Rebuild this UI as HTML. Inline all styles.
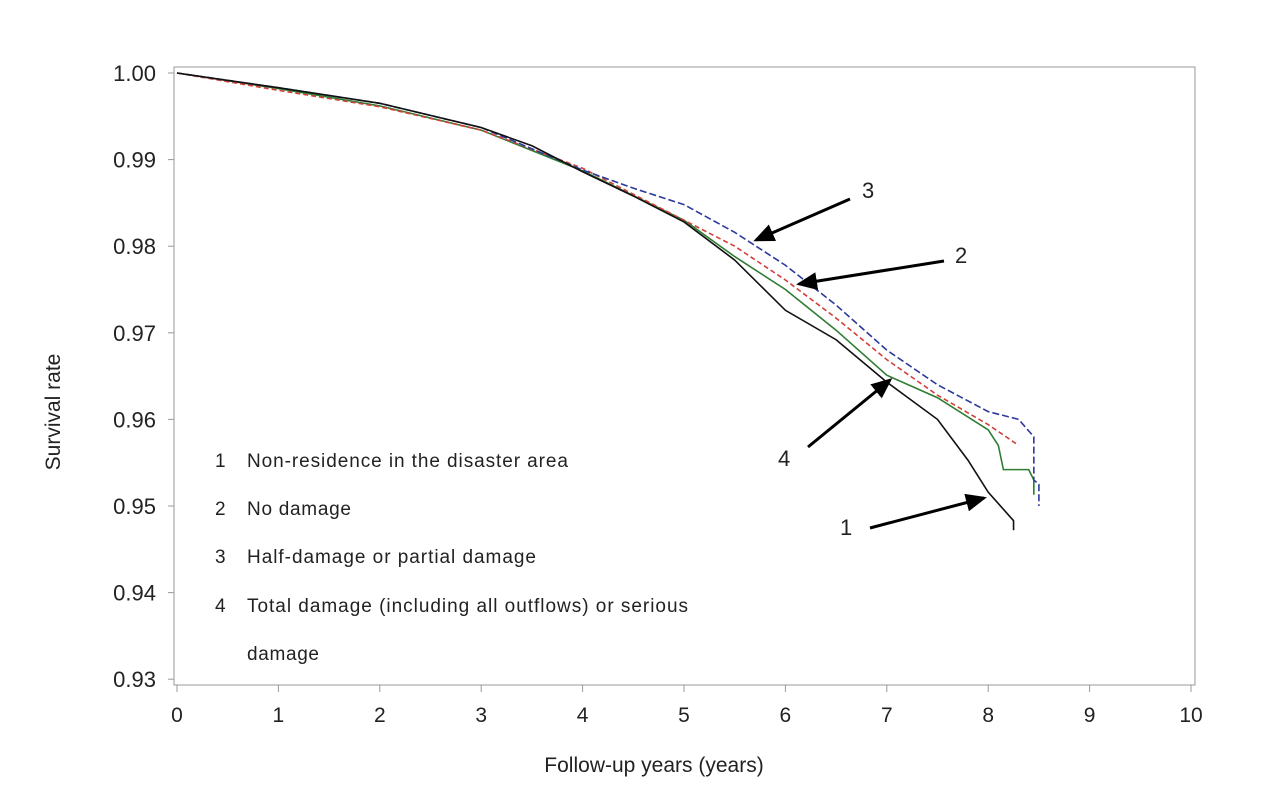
<!DOCTYPE html>
<html><head><meta charset="utf-8"><style>
body{margin:0;background:#fff;}
svg{display:block;font-family:"Liberation Sans",sans-serif;}
</style></head><body>
<svg id="chart" width="1280" height="797">
<defs><marker id="ah" markerWidth="7" markerHeight="6" refX="6" refY="3" orient="auto"><path d="M0,0 L7,3 L0,6 Z" fill="#000"/></marker></defs>
<rect x="174" y="67" width="1021" height="618" fill="none" stroke="#999" stroke-width="1"/>
<g id="axes"></g>
<g id="series"></g>
<g id="legend" font-size="19" fill="#222">
<text x="215" y="467">1</text><text x="247" y="467" textLength="321" lengthAdjust="spacing">Non-residence in the disaster area</text>
<text x="215" y="515">2</text><text x="247" y="515" textLength="104" lengthAdjust="spacing">No damage</text>
<text x="215" y="563">3</text><text x="247" y="563" textLength="289" lengthAdjust="spacing">Half-damage or partial damage</text>
<text x="215" y="612">4</text><text x="247" y="612" textLength="441" lengthAdjust="spacing">Total damage (including all outflows) or serious</text>
<text x="247" y="660" textLength="72" lengthAdjust="spacing">damage</text>
</g>
<g font-size="22" fill="#222" stroke="#000" stroke-width="3">
<text x="862" y="198" stroke="none">3</text>
<line x1="850" y1="199" x2="756" y2="240" marker-end="url(#ah)"/>
<text x="955" y="263" stroke="none">2</text>
<line x1="944" y1="261" x2="799" y2="284" marker-end="url(#ah)"/>
<text x="778" y="466" stroke="none">4</text>
<line x1="808" y1="447" x2="890" y2="380" marker-end="url(#ah)"/>
<text x="840" y="535" stroke="none">1</text>
<line x1="870" y1="528" x2="984" y2="498" marker-end="url(#ah)"/>
</g>
<text x="654" y="772" font-size="21" fill="#222" text-anchor="middle">Follow-up years (years)</text>
<text transform="translate(60,412) rotate(-90)" font-size="21" fill="#222" text-anchor="middle">Survival rate</text>
</svg>
<script>
const xTicks=[0,1,2,3,4,5,6,7,8,9,10];
const yTicks=[1.00,0.99,0.98,0.97,0.96,0.95,0.94,0.93];
const yTickLabels=["1.00","0.99","0.98","0.97","0.96","0.95","0.94","0.93"];
const s1x=[0,1,2,3,3.5,4,4.5,5,5.5,6,6.5,7,7.5,7.8,8,8.25,8.25];
const s1y=[1,0.9983,0.9965,0.9937,0.9916,0.9886,0.9858,0.9828,0.9784,0.9726,0.9692,0.9643,0.960,0.9553,0.9516,0.9483,0.9472];
const s2x=[0,1,2,3,4,5,5.5,6,6.5,7,7.5,8,8.3];
const s2y=[1,0.998,0.9961,0.9934,0.989,0.983,0.980,0.9761,0.9717,0.9669,0.9628,0.9594,0.957];
const s3x=[0,1,2,3,4,4.5,5,5.5,6,6.5,7,7.5,8,8.3,8.45,8.45,8.5,8.5];
const s3y=[1,0.9983,0.9965,0.9937,0.9888,0.9867,0.9848,0.9816,0.9778,0.9732,0.968,0.964,0.9609,0.9600,0.9580,0.9530,0.9525,0.950];
const s4x=[0,1,2,3,4,5,5.5,6,6.5,7,7.5,8,8.1,8.15,8.4,8.45,8.45];
const s4y=[1,0.9982,0.9962,0.9934,0.9887,0.983,0.9788,0.975,0.9703,0.9651,0.9625,0.9588,0.957,0.9542,0.9542,0.9530,0.9513];
const X=v=>177+v*101.4;
const Y=v=>73+(1-v)*8660;
const NS='http://www.w3.org/2000/svg';
const axes=document.getElementById('axes');
xTicks.forEach(t=>{
 const l=document.createElementNS(NS,'line');
 l.setAttribute('x1',X(t));l.setAttribute('x2',X(t));l.setAttribute('y1',685);l.setAttribute('y2',692);l.setAttribute('stroke','#999');
 
 
 axes.appendChild(l);
 const tx=document.createElementNS(NS,'text');
 tx.setAttribute('x',X(t));tx.setAttribute('y',722);tx.setAttribute('font-size','21');tx.setAttribute('text-anchor','middle');tx.setAttribute('fill','#222');
 tx.textContent=t;
 
 
 axes.appendChild(tx);
});
yTicks.forEach((t,i)=>{
 const l=document.createElementNS(NS,'line');
 l.setAttribute('x1',168);l.setAttribute('x2',174);l.setAttribute('y1',Y(t));l.setAttribute('y2',Y(t));l.setAttribute('stroke','#999');
 
 
 axes.appendChild(l);
 const tx=document.createElementNS(NS,'text');
 tx.setAttribute('x',156);tx.setAttribute('y',Y(t)+8);tx.setAttribute('font-size','22');tx.setAttribute('text-anchor','end');tx.setAttribute('fill','#222');
 tx.textContent=yTickLabels[i];
 
 
 axes.appendChild(tx);
});
const sg=document.getElementById('series');
function draw(xs,ys,color,dash,name){
 let d='';
 xs.forEach((x,i)=>{
  d+=(i===0?'M':' L')+X(x)+','+Y(ys[i]);
 });
 const p=document.createElementNS(NS,'path');
 p.setAttribute('d',d);p.setAttribute('fill','none');p.setAttribute('stroke',color);p.setAttribute('stroke-width','1.6');
 if(dash)p.setAttribute('stroke-dasharray',dash);
 
 
 sg.appendChild(p);
}
draw(s4x,s4y,'#2e7d32',null,'series-4-total-damage');
draw(s2x,s2y,'#d2403a','5,3','series-2-no-damage');
draw(s3x,s3y,'#2b3a9c','7,3','series-3-half-damage');
draw(s1x,s1y,'#111',null,'series-1-non-residence');
</script>
</body></html>
